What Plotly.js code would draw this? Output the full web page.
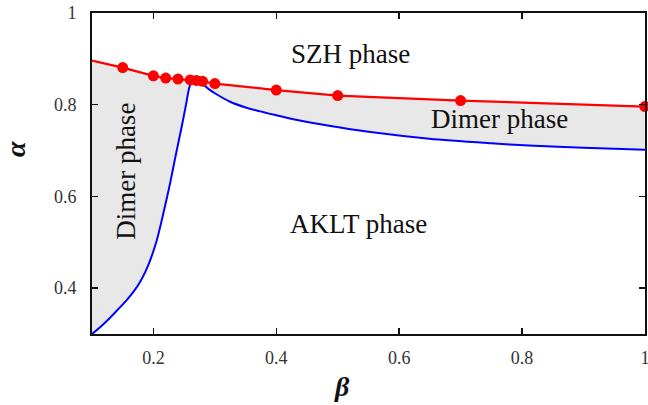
<!DOCTYPE html>
<html>
<head>
<meta charset="utf-8">
<script src="https://cdn.plot.ly/plotly-3.0.1.min.js"></script>
<style>html,body{margin:0;padding:0;background:#fff;}#chart{width:648px;height:405px;}</style>
</head>
<body>
<div id="chart"></div>
<script>
// Phase boundary (red, with computed points)
const redLineX = [0.1, 0.15, 0.2, 0.22, 0.24, 0.26, 0.27, 0.28, 0.3, 0.4, 0.5, 0.7, 1.0];
const redLineY = [0.896, 0.881, 0.863, 0.858, 0.856, 0.854, 0.853, 0.851, 0.846, 0.832, 0.820, 0.809, 0.796];
const redPtsX = [0.15, 0.2, 0.22, 0.24, 0.26, 0.27, 0.28, 0.3, 0.4, 0.5, 0.7, 1.0];
const redPtsY = [0.881, 0.863, 0.858, 0.856, 0.854, 0.853, 0.851, 0.846, 0.832, 0.820, 0.809, 0.796];
// Dimer / AKLT boundary (blue)
const blueX = [0.1, 0.115, 0.129, 0.143, 0.1565, 0.168, 0.178, 0.187, 0.1945, 0.2054, 0.216, 0.227, 0.238, 0.246, 0.253, 0.2585, 0.262, 0.27, 0.28, 0.29, 0.3, 0.324, 0.35, 0.372, 0.4, 0.432, 0.486, 0.55, 0.649, 0.75, 0.811, 0.9, 1.0];
const blueY = [0.300, 0.317, 0.335, 0.3545, 0.374, 0.393, 0.413, 0.436, 0.460, 0.504, 0.562, 0.628, 0.701, 0.752, 0.800, 0.838, 0.848, 0.851, 0.845, 0.834, 0.825, 0.807, 0.794, 0.786, 0.777, 0.767, 0.754, 0.741, 0.726, 0.716, 0.711, 0.706, 0.702];
// Labels
const phaseLabels = ["SZH phase", "Dimer phase", "AKLT phase", "Dimer phase"];
const labelX = [0.520, 0.764, 0.534, 0.154];
const labelY = [0.910, 0.769, 0.539, 0.654];
const labelAngle = [0, 0, 0, -90];
const xTicks = [0.2, 0.4, 0.6, 0.8, 1];
const yTicks = [0.4, 0.6, 0.8, 1];
const xTitle = 'β';
const yTitle = 'α';

const SERIF = 'Liberation Serif';

const traces = [
  {x: blueX, y: blueY, mode: 'lines', line: {color: '#0000ff', width: 2, shape: 'spline', smoothing: 0.8}, hoverinfo: 'skip'},
  {x: redLineX, y: redLineY, mode: 'lines', line: {color: '#ff0000', width: 2.2}, fill: 'tonexty', fillcolor: '#e8e8e8', hoverinfo: 'skip'},
  {x: redPtsX, y: redPtsY, mode: 'markers', marker: {color: '#ff0000', size: 11}, hoverinfo: 'skip', cliponaxis: false}
];

const annotations = phaseLabels.map((t, i) => ({
  x: labelX[i], y: labelY[i], xref: 'x', yref: 'y', text: t, showarrow: false,
  textangle: labelAngle[i], font: {family: SERIF, size: 27, color: '#111'}
}));
annotations.push({xref: 'paper', yref: 'paper', x: 0.452, y: -0.218, text: '<b><i>' + xTitle + '</i></b>', showarrow: false,
  font: {family: SERIF, size: 28, color: '#111'}});
annotations.push({xref: 'paper', yref: 'paper', x: -0.17, y: 0.578, text: '<b><i>' + yTitle + '</i></b>', showarrow: false,
  textangle: -90, font: {family: SERIF, size: 28, color: '#111'}});

const axisCommon = {
  showgrid: false, zeroline: false, showline: true, linecolor: '#111', linewidth: 2,
  mirror: 'ticks', ticks: 'inside', ticklen: 6, tickwidth: 1.5, tickcolor: '#111',
  tickfont: {family: SERIF, size: 18, color: '#333'}, ticklabeloverflow: 'allow'
};

const layout = {
  width: 648, height: 405,
  margin: {l: 92, r: 3, t: 13, b: 71},
  paper_bgcolor: '#fff', plot_bgcolor: '#fff',
  font: {family: SERIF},
  showlegend: false,
  xaxis: Object.assign({}, axisCommon, {
    range: [0.1, 1.0002], tickvals: xTicks, ticktext: xTicks.map(String), ticklabelstandoff: 6
  }),
  yaxis: Object.assign({}, axisCommon, {
    range: [0.3, 1], tickvals: yTicks, ticktext: yTicks.map(String), ticklabelstandoff: 10
  }),
  annotations: annotations
};

Plotly.newPlot('chart', traces, layout, {staticPlot: true, displayModeBar: false});
</script>
</body>
</html>
